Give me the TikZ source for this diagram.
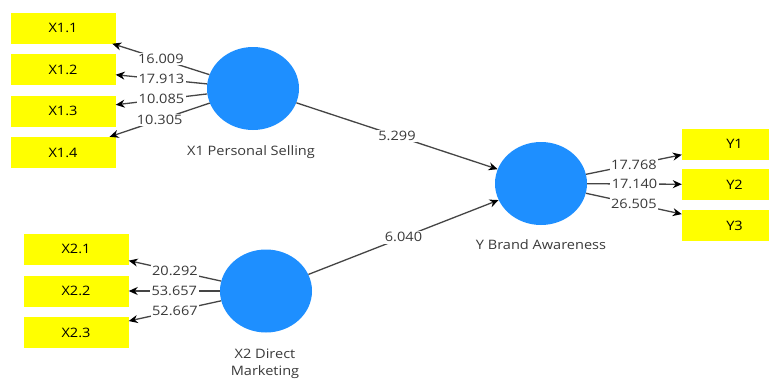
\documentclass[tikz,border=0pt]{standalone}
\usepackage{fontspec}
\setmainfont{Open Sans}[FakeStretch=1.12]
\usepackage{xcolor}
\usetikzlibrary{arrows.meta,shapes.geometric}
\definecolor{latentblue}{HTML}{1E8FFF}
\definecolor{itemyellow}{HTML}{FFFF00}
\definecolor{linkgray}{HTML}{454545}
\definecolor{labelgray}{HTML}{3A3A3A}

\tikzset{
  latent/.style={ellipse,fill=latentblue,minimum width=92pt,minimum height=83pt,inner sep=0pt},
  item/.style={rectangle,fill=itemyellow,minimum width=105pt,minimum height=31pt,inner sep=0pt,
    font=\fontsize{13}{15}\selectfont},
  link/.style={draw=linkgray,line width=1.3pt,-{Stealth[length=9pt,width=8pt,black]}},
  coef/.style={fill=white,text=labelgray,inner sep=1.5pt,font=\fontsize{13}{15}\selectfont},
  lvname/.style={text=labelgray,align=center,font=\fontsize{13}{17}\selectfont}
}

\begin{document}
\begin{tikzpicture}[x=1pt,y=-1pt]
  \useasboundingbox[fill=white] (0,0) rectangle (769,378);
  % latent variables
  \node[latent] (X1) at (253,88.5) {};
  \node[latent] (X2) at (266,291) {};
  \node[latent] (Y) at (541,183.5) {};
  \node[lvname] (X1name) at (251,152) {X1 Personal Selling};
  \node[lvname] (X2name) at (265,363.5) {X2 Direct\\Marketing};
  \node[lvname] (Yname) at (541,245) {Y Brand Awareness};
  % indicators with outer loadings
  \foreach \i/\y/\w in {1/28/16.009,2/69.5/17.913,3/111/10.085,4/152.5/10.305} {
    \node[item] (x1\i) at (63,\y) {X1.\i};
    \draw[link] (X1) -- node[coef] {\w} (x1\i);
  }
  \foreach \i/\y/\w in {1/249/20.292,2/291/53.657,3/332.5/52.667} {
    \node[item] (x2\i) at (76,\y) {X2.\i};
    \draw[link] (X2) -- node[coef] {\w} (x2\i);
  }
  \foreach \i/\y/\w in {1/144/17.768,2/184.5/17.140,3/225.5/26.505} {
    \node[item] (y\i) at (734.5,\y) {Y\i};
    \draw[link] (Y) -- node[coef] {\w} (y\i);
  }
  % inner model
  \draw[link] (X1) -- node[coef] {5.299} (Y);
  \draw[link] (X2) -- node[coef] {6.040} (Y);
\end{tikzpicture}
\end{document}
